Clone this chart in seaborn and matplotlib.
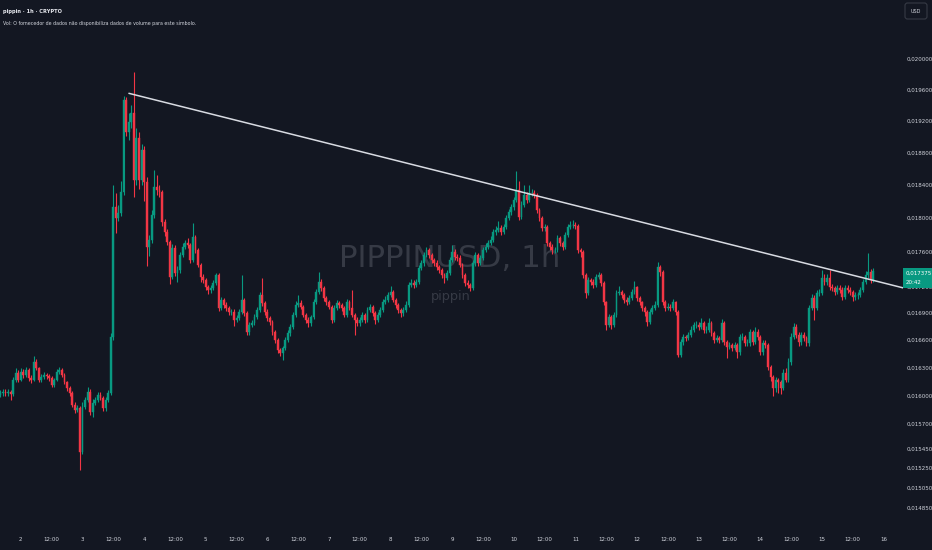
import numpy as np
import pandas as pd
import seaborn as sns
import matplotlib
matplotlib.use("Agg")
import matplotlib.pyplot as plt
from matplotlib import font_manager
from matplotlib.ticker import FixedLocator, NullLocator
from matplotlib.patches import Rectangle, FancyBboxPatch

# ---------------- data (hourly candles, PIPPINUSD) ----------------
first_open = 0.016010
closes = [
    0.016027, 0.016038, 0.016027, 0.016038, 0.016016, 0.016165, 0.016241, 0.016165, 0.016251, 0.016219, 0.016273, 0.016187,
    0.016165, 0.016359, 0.016294, 0.016165, 0.016197, 0.016219, 0.016208, 0.016187, 0.016112, 0.016165, 0.016251, 0.016273,
    0.016219, 0.016144, 0.016080, 0.016027, 0.015900, 0.015847, 0.015868, 0.015412, 0.015878, 0.015952, 0.016038, 0.015826,
    0.015921, 0.015952, 0.016006, 0.015974, 0.015868, 0.015952, 0.016027, 0.016633, 0.018130, 0.017999, 0.018058, 0.018312,
    0.019464, 0.019055, 0.019182, 0.019297, 0.018458, 0.018979, 0.018458, 0.018829, 0.018434, 0.017656, 0.017738, 0.018034,
    0.018373, 0.018336, 0.018312, 0.017951, 0.017832, 0.017715, 0.017308, 0.017644, 0.017354, 0.017389, 0.017562, 0.017656,
    0.017703, 0.017679, 0.017504, 0.017773, 0.017621, 0.017446, 0.017308, 0.017274, 0.017194, 0.017160, 0.017183, 0.017240,
    0.017331, 0.016956, 0.017046, 0.016990, 0.016956, 0.016912, 0.016912, 0.016822, 0.016844, 0.016912, 0.017046, 0.016900,
    0.016689, 0.016766, 0.016789, 0.016856, 0.016934, 0.017103, 0.017012, 0.016912, 0.016844, 0.016800, 0.016689, 0.016600,
    0.016490, 0.016457, 0.016512, 0.016600, 0.016678, 0.016744, 0.016878, 0.016990, 0.017012, 0.016967, 0.016878, 0.016822,
    0.016789, 0.016856, 0.017023, 0.017137, 0.017251, 0.017183, 0.017069, 0.017023, 0.016967, 0.016822, 0.016956, 0.017012,
    0.016990, 0.016956, 0.016878, 0.017023, 0.016956, 0.016878, 0.016822, 0.016789, 0.016822, 0.016878, 0.016822, 0.016934,
    0.016967, 0.016900, 0.016822, 0.016878, 0.016934, 0.017023, 0.017046, 0.017103, 0.017137, 0.017046, 0.016990, 0.016934,
    0.016900, 0.016934, 0.016990, 0.017217, 0.017240, 0.017217, 0.017251, 0.017412, 0.017469, 0.017562, 0.017621, 0.017562,
    0.017504, 0.017469, 0.017423, 0.017389, 0.017331, 0.017297, 0.017354, 0.017504, 0.017598, 0.017539, 0.017527, 0.017446,
    0.017331, 0.017240, 0.017217, 0.017183, 0.017469, 0.017562, 0.017469, 0.017527, 0.017621, 0.017656, 0.017703, 0.017738,
    0.017832, 0.017856, 0.017880, 0.017832, 0.017892, 0.017999, 0.018070, 0.018130, 0.018215, 0.018336, 0.018011, 0.018154,
    0.018276, 0.018215, 0.018300, 0.018300, 0.018276, 0.018094, 0.017999, 0.017880, 0.017892, 0.017703, 0.017656, 0.017621,
    0.017621, 0.017762, 0.017703, 0.017656, 0.017797, 0.017892, 0.017916, 0.017916, 0.017904, 0.017621, 0.017598, 0.017331,
    0.017126, 0.017274, 0.017251, 0.017217, 0.017308, 0.017331, 0.017240, 0.017023, 0.016766, 0.016856, 0.016766, 0.016878,
    0.017126, 0.017137, 0.017103, 0.017046, 0.017023, 0.017069, 0.017137, 0.017194, 0.017069, 0.017023, 0.016956, 0.016912,
    0.016800, 0.016912, 0.016956, 0.016990, 0.017423, 0.017366, 0.017023, 0.016956, 0.016967, 0.016956, 0.017023, 0.016912,
    0.016435, 0.016578, 0.016633, 0.016622, 0.016655, 0.016711, 0.016766, 0.016766, 0.016744, 0.016789, 0.016711, 0.016711,
    0.016789, 0.016678, 0.016600, 0.016622, 0.016600, 0.016789, 0.016578, 0.016523, 0.016545, 0.016512, 0.016545, 0.016468,
    0.016633, 0.016633, 0.016567, 0.016567, 0.016689, 0.016578, 0.016689, 0.016633, 0.016468, 0.016567, 0.016545, 0.016305,
    0.016197, 0.016080, 0.016165, 0.016144, 0.016080, 0.016241, 0.016165, 0.016359, 0.016633, 0.016744, 0.016655, 0.016578,
    0.016655, 0.016622, 0.016567, 0.016956, 0.017069, 0.016956, 0.017126, 0.017126, 0.017297, 0.017251, 0.017297, 0.017194,
    0.017183, 0.017137, 0.017183, 0.017160, 0.017080, 0.017183, 0.017160, 0.017137, 0.017080, 0.017103, 0.017103, 0.017160,
    0.017251, 0.017331, 0.017366, 0.017274, 0.017375,
]
highs = [
    0.016060, 0.016075, 0.016070, 0.016065, 0.016060, 0.016200, 0.016300, 0.016270, 0.016290, 0.016280, 0.016310, 0.016300,
    0.016220, 0.016430, 0.016390, 0.016310, 0.016230, 0.016250, 0.016245, 0.016235, 0.016210, 0.016190, 0.016280, 0.016310,
    0.016300, 0.016240, 0.016160, 0.016100, 0.016050, 0.015930, 0.015900, 0.015890, 0.015930, 0.015990, 0.016090, 0.016070,
    0.015960, 0.015990, 0.016040, 0.016040, 0.016000, 0.015990, 0.016060, 0.016680, 0.018400, 0.018300, 0.018150, 0.018450,
    0.019520, 0.019500, 0.019300, 0.019400, 0.019830, 0.019100, 0.019050, 0.018900, 0.018880, 0.018500, 0.017800, 0.018100,
    0.018581, 0.018520, 0.018400, 0.018340, 0.017990, 0.017870, 0.017740, 0.017690, 0.017680, 0.017430, 0.017600, 0.017700,
    0.017740, 0.017760, 0.017700, 0.017939, 0.017800, 0.017650, 0.017470, 0.017340, 0.017300, 0.017220, 0.017220, 0.017270,
    0.017360, 0.017350, 0.017080, 0.017070, 0.017020, 0.016980, 0.016950, 0.016940, 0.016880, 0.016950, 0.017331, 0.017070,
    0.016920, 0.016800, 0.016820, 0.016890, 0.016970, 0.017140, 0.017297, 0.017040, 0.016940, 0.016870, 0.016820, 0.016710,
    0.016620, 0.016510, 0.016540, 0.016630, 0.016710, 0.016780, 0.016910, 0.017030, 0.017100, 0.017050, 0.016990, 0.016900,
    0.016850, 0.016880, 0.017060, 0.017170, 0.017366, 0.017290, 0.017200, 0.017090, 0.017050, 0.016990, 0.016990, 0.017050,
    0.017040, 0.017010, 0.016980, 0.017060, 0.017050, 0.017160, 0.016900, 0.016850, 0.016860, 0.016910, 0.016900, 0.016970,
    0.017000, 0.016990, 0.016920, 0.016910, 0.016970, 0.017060, 0.017090, 0.017140, 0.017200, 0.017160, 0.017070, 0.017010,
    0.016960, 0.016970, 0.017030, 0.017250, 0.017280, 0.017270, 0.017290, 0.017450, 0.017510, 0.017600, 0.017660, 0.017650,
    0.017590, 0.017530, 0.017500, 0.017450, 0.017410, 0.017360, 0.017390, 0.017540, 0.017680, 0.017630, 0.017570, 0.017560,
    0.017470, 0.017350, 0.017270, 0.017240, 0.017500, 0.017600, 0.017590, 0.017560, 0.017660, 0.017700, 0.017740, 0.017780,
    0.017870, 0.017900, 0.017960, 0.017910, 0.017930, 0.018040, 0.018110, 0.018170, 0.018250, 0.018569, 0.018450, 0.018200,
    0.018397, 0.018310, 0.018400, 0.018350, 0.018340, 0.018300, 0.018120, 0.018020, 0.017930, 0.017910, 0.017730, 0.017690,
    0.017660, 0.017800, 0.017790, 0.017730, 0.017830, 0.017930, 0.017960, 0.017980, 0.017950, 0.017930, 0.017650, 0.017620,
    0.017350, 0.017310, 0.017300, 0.017280, 0.017340, 0.017370, 0.017360, 0.017260, 0.017040, 0.016890, 0.016880, 0.016910,
    0.017160, 0.017200, 0.017160, 0.017130, 0.017080, 0.017100, 0.017170, 0.017260, 0.017210, 0.017090, 0.017040, 0.016980,
    0.016930, 0.016950, 0.016990, 0.017030, 0.017480, 0.017450, 0.017390, 0.017050, 0.017010, 0.017000, 0.017060, 0.017040,
    0.016930, 0.016610, 0.016670, 0.016660, 0.016690, 0.016750, 0.016800, 0.016810, 0.016800, 0.016840, 0.016810, 0.016750,
    0.016840, 0.016810, 0.016700, 0.016660, 0.016650, 0.016830, 0.016810, 0.016600, 0.016580, 0.016570, 0.016580, 0.016570,
    0.016670, 0.016680, 0.016660, 0.016610, 0.016720, 0.016710, 0.016740, 0.016720, 0.016660, 0.016600, 0.016600, 0.016570,
    0.016330, 0.016220, 0.016200, 0.016190, 0.016170, 0.016280, 0.016300, 0.016400, 0.016680, 0.016790, 0.016780, 0.016690,
    0.016690, 0.016690, 0.016650, 0.016990, 0.017110, 0.017100, 0.017160, 0.017170, 0.017389, 0.017340, 0.017340, 0.017389,
    0.017230, 0.017210, 0.017220, 0.017220, 0.017190, 0.017220, 0.017220, 0.017190, 0.017160, 0.017140, 0.017140, 0.017190,
    0.017290, 0.017380, 0.017586, 0.017400, 0.017410,
]
lows = [
    0.015985, 0.016000, 0.015995, 0.016000, 0.015955, 0.016000, 0.016140, 0.016140, 0.016150, 0.016190, 0.016200, 0.016160,
    0.016130, 0.016150, 0.016270, 0.016140, 0.016140, 0.016180, 0.016180, 0.016160, 0.016090, 0.016095, 0.016150, 0.016230,
    0.016200, 0.016120, 0.016050, 0.016000, 0.015880, 0.015820, 0.015830, 0.015229, 0.015390, 0.015860, 0.015930, 0.015800,
    0.015775, 0.015900, 0.015930, 0.015950, 0.015840, 0.015840, 0.015930, 0.016010, 0.016600, 0.017820, 0.017960, 0.018020,
    0.018280, 0.019000, 0.018950, 0.019100, 0.018250, 0.018400, 0.018350, 0.018400, 0.018200, 0.017430, 0.017550, 0.017700,
    0.018000, 0.018280, 0.018250, 0.017900, 0.017780, 0.017680, 0.017230, 0.017280, 0.017320, 0.017250, 0.017360, 0.017540,
    0.017630, 0.017650, 0.017470, 0.017480, 0.017590, 0.017420, 0.017250, 0.017240, 0.017160, 0.017120, 0.017130, 0.017160,
    0.017220, 0.016920, 0.016930, 0.016960, 0.016920, 0.016880, 0.016880, 0.016760, 0.016800, 0.016820, 0.016890, 0.016870,
    0.016660, 0.016660, 0.016740, 0.016770, 0.016830, 0.016910, 0.016980, 0.016880, 0.016810, 0.016770, 0.016660, 0.016570,
    0.016460, 0.016420, 0.016381, 0.016490, 0.016580, 0.016650, 0.016720, 0.016860, 0.016970, 0.016940, 0.016850, 0.016790,
    0.016740, 0.016760, 0.016830, 0.017000, 0.017110, 0.017150, 0.017040, 0.016990, 0.016940, 0.016790, 0.016800, 0.016930,
    0.016960, 0.016920, 0.016850, 0.016860, 0.016930, 0.016850, 0.016655, 0.016750, 0.016760, 0.016800, 0.016790, 0.016800,
    0.016910, 0.016870, 0.016780, 0.016800, 0.016860, 0.016910, 0.017000, 0.017020, 0.017080, 0.017020, 0.016960, 0.016900,
    0.016860, 0.016870, 0.016910, 0.016970, 0.017190, 0.017180, 0.017190, 0.017230, 0.017390, 0.017440, 0.017540, 0.017530,
    0.017470, 0.017440, 0.017390, 0.017350, 0.017300, 0.017240, 0.017270, 0.017330, 0.017480, 0.017510, 0.017490, 0.017420,
    0.017300, 0.017210, 0.017180, 0.017150, 0.017160, 0.017440, 0.017440, 0.017450, 0.017500, 0.017600, 0.017630, 0.017680,
    0.017710, 0.017800, 0.017830, 0.017800, 0.017810, 0.017870, 0.017970, 0.018040, 0.018100, 0.018190, 0.017970, 0.017990,
    0.018130, 0.018180, 0.018190, 0.018260, 0.018240, 0.018060, 0.017960, 0.017850, 0.017840, 0.017670, 0.017620, 0.017580,
    0.017590, 0.017600, 0.017670, 0.017620, 0.017630, 0.017770, 0.017870, 0.017880, 0.017870, 0.017590, 0.017540, 0.017300,
    0.017069, 0.017100, 0.017220, 0.017180, 0.017190, 0.017280, 0.017210, 0.016990, 0.016711, 0.016740, 0.016720, 0.016740,
    0.016860, 0.017100, 0.017070, 0.017010, 0.016990, 0.017000, 0.017050, 0.017110, 0.017040, 0.016990, 0.016920, 0.016870,
    0.016760, 0.016780, 0.016890, 0.016930, 0.016970, 0.017320, 0.016990, 0.016920, 0.016930, 0.016920, 0.016930, 0.016880,
    0.016410, 0.016410, 0.016550, 0.016590, 0.016600, 0.016630, 0.016690, 0.016730, 0.016710, 0.016720, 0.016680, 0.016680,
    0.016690, 0.016650, 0.016570, 0.016580, 0.016570, 0.016580, 0.016550, 0.016400, 0.016500, 0.016480, 0.016490, 0.016400,
    0.016440, 0.016600, 0.016530, 0.016530, 0.016540, 0.016550, 0.016560, 0.016600, 0.016440, 0.016440, 0.016510, 0.016270,
    0.016160, 0.016000, 0.016040, 0.016030, 0.016020, 0.016060, 0.016140, 0.016140, 0.016330, 0.016610, 0.016620, 0.016540,
    0.016550, 0.016590, 0.016530, 0.016540, 0.016930, 0.016822, 0.016930, 0.017090, 0.017100, 0.017220, 0.017220, 0.017160,
    0.017150, 0.017100, 0.017110, 0.017130, 0.017050, 0.017060, 0.017130, 0.017100, 0.017040, 0.017050, 0.017060, 0.017080,
    0.017140, 0.017230, 0.017300, 0.017240, 0.017250,
]
# descending trendline: (candle index, price) of its two anchor points
trend_x = [50.1, 360.0]
trend_p = [0.019550, 0.017123]

x_tick_labels = ["2", "12:00", "3", "12:00", "4", "12:00", "5", "12:00", "6", "12:00",
                 "7", "12:00", "8", "12:00", "9", "12:00", "10", "12:00", "11", "12:00",
                 "12", "12:00", "13", "12:00", "14", "12:00", "15", "12:00", "16"]
y_tick_values = [0.020000, 0.019600, 0.019200, 0.018800, 0.018400, 0.018000, 0.017600,
                 0.017200, 0.016900, 0.016600, 0.016300, 0.016000, 0.015700, 0.015450,
                 0.015250, 0.015050, 0.014850]
title_line = "pippin · 1h · CRYPTO"
vol_line = "Vol: O fornecedor de dados não disponibiliza dados de volume para este símbolo."
watermark = "PIPPINUSD, 1h"
watermark_sub = "pippin"
countdown = "20:42"

# ---------------- style ----------------
BG = "#131722"
UP = "#089981"
DOWN = "#f23645"
TXT = "#d1d4dc"
WM = "#363a45"

sns.set_theme(style="dark", rc={"axes.facecolor": BG, "figure.facecolor": BG,
                                "savefig.facecolor": BG})
names = {f.name for f in font_manager.fontManager.ttflist}
if "Liberation Sans Narrow" in names:
    plt.rcParams["font.family"] = ["Liberation Sans Narrow", "DejaVu Sans"]
    k = 1.0
else:
    plt.rcParams["font.family"] = ["DejaVu Sans"]
    k = 0.74

W, H = 932, 550
fig = plt.figure(figsize=(W / 100, H / 100), dpi=100)
ax = fig.add_axes([0, 22 / H, 903 / W, 528 / H])
ax.set_facecolor(BG)
ax.set_yscale("log")
ax.set_ylim(0.014655, 0.020798)
ax.set_xlim(-0.12, 351.6)

df = pd.DataFrame({"c": closes, "h": highs, "l": lows})
df["o"] = [first_open] + closes[:-1]
df["i"] = np.arange(len(df))
df["up"] = df["c"] >= df["o"]
cols = np.where(df["up"], UP, DOWN)

# wicks and bodies
ax.vlines(df["i"], df["l"], df["h"], colors=cols, lw=0.8, zorder=3)
body_lo = np.minimum(df["o"], df["c"])
body_h = np.abs(df["c"] - df["o"])
ax.bar(df["i"], body_h, bottom=body_lo, width=0.72, color=cols,
       edgecolor=cols, linewidth=0.3, zorder=4)

# trendline via seaborn
tdf = pd.DataFrame({"i": trend_x, "p": trend_p})
sns.lineplot(data=tdf, x="i", y="p", ax=ax, color="#d8dbe2", lw=1.1, zorder=5)
ax.set_xlabel("")
ax.set_ylabel("")

# watermark
ax.text(450 / 903, 1 - 267 / 528, watermark, transform=ax.transAxes, ha="center",
        va="baseline", fontsize=30 * k, color=WM, zorder=1)
ax.text(451 / 903, 1 - 300 / 528, watermark_sub, transform=ax.transAxes, ha="center",
        va="baseline", fontsize=12.5 * k, color=WM, zorder=1)

# axes / ticks
for s in ax.spines.values():
    s.set_visible(False)
ax.grid(False)
ax.set_xticks([8 + 12 * j for j in range(len(x_tick_labels))])
ax.set_xticklabels(x_tick_labels)
ax.yaxis.tick_right()
ax.yaxis.set_major_locator(FixedLocator(y_tick_values))
ax.yaxis.set_minor_locator(NullLocator())
ax.set_yticklabels([f"{v:.6f}".replace(".", ",") for v in y_tick_values])
ax.tick_params(axis="y", length=0, pad=2.4, labelsize=5.3 * k, labelcolor=TXT)
ax.tick_params(axis="x", length=0, pad=6.6, labelsize=5.3 * k, labelcolor=TXT)

# overlay in pixel coordinates for header, USD box and price label
ov = fig.add_axes([0, 0, 1, 1], zorder=10)
ov.set_xlim(0, W)
ov.set_ylim(H, 0)
ov.axis("off")
ov.patch.set_alpha(0)

ov.text(3, 12, title_line, fontsize=5.0 * k, color="#e6e8ee", va="center", ha="left",
        fontweight="bold")
ov.text(3, 23, vol_line, fontsize=4.6 * k, color=TXT, va="center", ha="left")

ov.add_patch(FancyBboxPatch((905, 3), 22, 16, boxstyle="round,pad=0,rounding_size=2.5",
                            facecolor=BG, edgecolor="#363a45", lw=0.8))
ov.text(916, 11.5, "USD", fontsize=4.8 * k, color=TXT, ha="center", va="center")

last = closes[-1]
y_last = H - ax.transData.transform((0, last))[1]
ov.add_patch(Rectangle((903, y_last - 3), 29, 19.5, facecolor=UP, edgecolor="none"))
ov.text(906, y_last + 2, f"{last:.6f}".replace(".", ","), fontsize=5.3 * k,
        color="white", ha="left", va="center")
ov.text(906, y_last + 11, countdown, fontsize=5.3 * k, color="white", ha="left", va="center")

fig.savefig("out.png", dpi=100, facecolor=BG)
